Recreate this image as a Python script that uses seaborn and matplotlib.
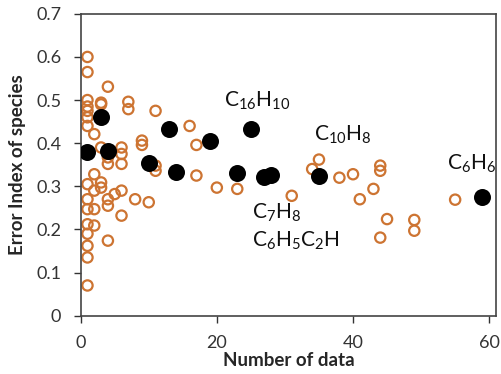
import matplotlib
matplotlib.use("Agg")
import matplotlib.pyplot as plt
import seaborn as sns
import pandas as pd

# open circles: all species
open_x = [1, 1, 1, 1, 1, 1, 1, 1, 1, 1, 1, 1, 1, 1, 1,
          2, 2, 2, 2, 2,
          3, 3, 3, 3, 3,
          4, 4, 4, 4, 4, 4,
          5,
          6, 6, 6, 6, 6,
          7, 7, 8, 9, 9, 10, 11, 11, 11,
          16, 17, 17, 20, 23, 31, 34, 35, 38, 40, 41, 43,
          44, 44, 44, 45, 49, 49, 55]
open_y = [0.60, 0.565, 0.50, 0.485, 0.475, 0.46, 0.44, 0.305, 0.27, 0.247,
          0.212, 0.19, 0.162, 0.135, 0.07,
          0.421, 0.328, 0.29, 0.247, 0.209,
          0.494, 0.49, 0.39, 0.309, 0.297,
          0.531, 0.367, 0.352, 0.27, 0.255, 0.174,
          0.282,
          0.39, 0.375, 0.352, 0.29, 0.232,
          0.496, 0.479, 0.27, 0.406, 0.396, 0.263, 0.475, 0.348, 0.336,
          0.44, 0.396, 0.325, 0.297, 0.294, 0.278, 0.34, 0.362, 0.32, 0.328, 0.27, 0.294,
          0.348, 0.336, 0.181, 0.224, 0.222, 0.197, 0.269]

# filled circles: highlighted species
main_x = [1, 3, 4, 10, 13, 14, 19, 23, 25, 27, 28, 35, 59]
main_y = [0.38, 0.46, 0.383, 0.355, 0.433, 0.334, 0.405, 0.33, 0.432, 0.322, 0.326, 0.325, 0.275]

labels = [r"C$_{16}$H$_{10}$", r"C$_{10}$H$_{8}$", r"C$_{6}$H$_{6}$",
          r"C$_{7}$H$_{8}$", r"C$_{6}$H$_{5}$C$_{2}$H"]
label_x = [21, 34.2, 53.8, 25.1, 25.1]
label_y = [0.498, 0.42, 0.352, 0.239, 0.174]

sns.set_theme(style="ticks")
plt.rcParams['font.family'] = ['Lato', 'DejaVu Sans']
plt.rcParams['mathtext.fontset'] = 'custom'
plt.rcParams['mathtext.rm'] = 'Lato'
plt.rcParams['mathtext.it'] = 'Lato'

fig = plt.figure(figsize=(5.01, 3.74), dpi=100)
ax = fig.add_axes([0.161, 0.156, 0.829, 0.807])

df_open = pd.DataFrame({'n': open_x, 'err': open_y})
df_main = pd.DataFrame({'n': main_x, 'err': main_y})

sns.scatterplot(data=df_open, x='n', y='err', ax=ax, s=55, marker='o',
                facecolor='none', edgecolor='#CD7432', linewidth=1.6, zorder=2)
sns.scatterplot(data=df_main, x='n', y='err', ax=ax, s=150, color='black',
                edgecolor='black', linewidth=0, zorder=3)

for t, lx, ly in zip(labels, label_x, label_y):
    ax.text(lx, ly, t, fontsize=15, color='#111111', va='center', ha='left')

ax.set_xlim(0, 61)
ax.set_ylim(0, 0.7)
ax.set_xticks([0, 20, 40, 60])
ax.set_yticks([0, 0.1, 0.2, 0.3, 0.4, 0.5, 0.6, 0.7])
ax.set_yticklabels(['0', '0.1', '0.2', '0.3', '0.4', '0.5', '0.6', '0.7'])
ax.tick_params(labelsize=13, direction='out', length=5, width=1, colors='#333333',
               labelcolor='#333333')
ax.tick_params(axis='x', pad=9)
ax.tick_params(axis='y', pad=9)
ax.set_xlabel('Number of data', fontsize=13.5, fontweight='bold', labelpad=1)
ax.set_ylabel('Error Index of species', fontsize=13.5, fontweight='bold', labelpad=7)
for sp in ax.spines.values():
    sp.set_visible(True)
    sp.set_color('#444444')
    sp.set_linewidth(1.2)

fig.savefig('out.png', dpi=100)
